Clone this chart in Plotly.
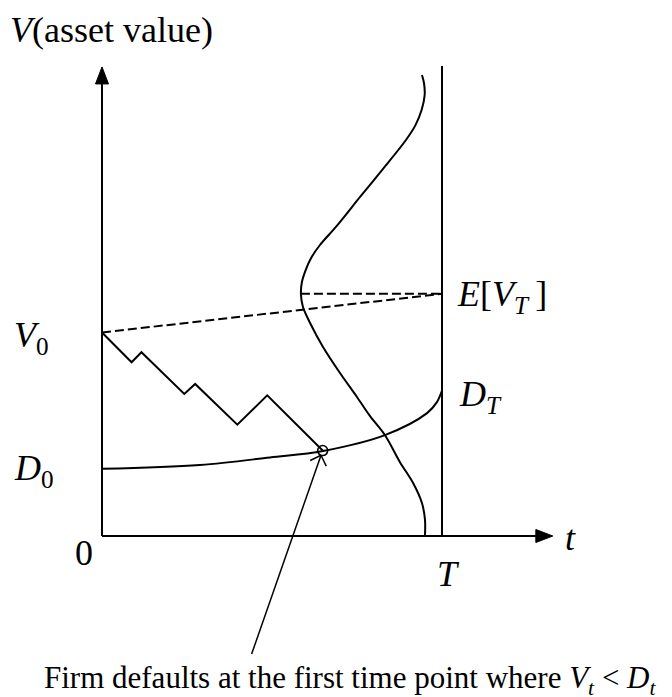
import math
import plotly.graph_objects as go

# ---- model quantities (t in units of the horizon T, V in units where V0 = 100) ----
T = 1.0
V0 = 100.0
D0 = 33.0
EVT = 119.0          # expected terminal asset value E[V_T]

# one simulated asset-value path, ending when it first touches the barrier
path_t = [0.0, 0.087, 0.116, 0.242, 0.274, 0.398, 0.486, 0.649]
path_v = [100.0, 85.4, 90.3, 69.8, 74.7, 54.7, 69.1, 42.0]

# default barrier D_t, rising from D0 to D_T
barrier_t = [0.0, 0.288, 0.494, 0.650, 0.832, 0.956, 0.985, 1.0]
barrier_d = [33.0, 34.9, 38.6, 41.8, 49.6, 60.4, 65.8, 71.5]

# distribution of V_T, drawn sideways to the left of the maturity line
dist_v = [226.5, 222.6, 216.7, 209.3, 201.9, 194.6, 180.3, 166.6, 152.3, 143.0,
          136.6, 130.7, 124.8, 119.0,
          112.5, 104.7, 92.9, 80.1, 68.3, 59.0, 49.6, 36.4, 26.0, 16.2, 7.9, 0.5]
dist_h = [0.059, 0.053, 0.051, 0.060, 0.078, 0.106, 0.174, 0.241, 0.310, 0.359,
          0.385, 0.401, 0.412, 0.415,
          0.409, 0.388, 0.350, 0.300, 0.250, 0.212, 0.168, 0.124, 0.085, 0.059,
          0.050, 0.050]

# axis extents
V_TOP = 231.0        # top of the maturity line
V_ARROW = 230.5      # tip of the value-axis arrow
T_ARROW = 1.326      # tip of the time-axis arrow

# annotation arrow tail (start of the pointer to the default point)
tail_t, tail_v = 0.440, -58.0

# ---- drawing scale ----
W, H = 672, 697
PX_T = 340.0         # pixels per unit of t
PX_V = 2.035         # pixels per unit of V
ORIGIN_X, ORIGIN_Y = 102.0, 536.0
x_range = [-ORIGIN_X / PX_T, (W - ORIGIN_X) / PX_T]
y_range = [-(H - ORIGIN_Y) / PX_V, ORIGIN_Y / PX_V]


def dx(px):
    return px / PX_T


def dv(px):
    return px / PX_V


def px_t(px):
    return (px - ORIGIN_X) / PX_T


def px_v(py):
    return (ORIGIN_Y - py) / PX_V


BLACK = "black"
FONT = "Liberation Serif, Times New Roman, serif"
LW = 2

fig = go.Figure()


def line(xs, ys, width=LW, dash=None, shape="linear", smoothing=1.0):
    ln = dict(color=BLACK, width=width, dash=dash, shape=shape)
    if shape == "spline":
        ln["smoothing"] = smoothing
    fig.add_trace(go.Scatter(
        x=xs, y=ys, mode="lines", hoverinfo="skip", showlegend=False, line=ln))


# axes
head_len, head_half = 17, 6.5
line([0, 0], [0, V_ARROW - dv(head_len)])
line([0, T_ARROW - dx(head_len)], [0, 0])
fig.add_trace(go.Scatter(
    x=[0, -dx(head_half), dx(head_half), 0],
    y=[V_ARROW, V_ARROW - dv(head_len), V_ARROW - dv(head_len), V_ARROW],
    mode="lines", fill="toself", fillcolor=BLACK, line=dict(color=BLACK, width=1),
    hoverinfo="skip", showlegend=False))
fig.add_trace(go.Scatter(
    x=[T_ARROW, T_ARROW - dx(head_len), T_ARROW - dx(head_len), T_ARROW],
    y=[0, dv(head_half), -dv(head_half), 0],
    mode="lines", fill="toself", fillcolor=BLACK, line=dict(color=BLACK, width=1),
    hoverinfo="skip", showlegend=False))

# maturity line
line([T, T], [0, V_TOP])

# expected drift of the asset value and the level of E[V_T]
line([0, T], [V0, EVT], width=2, dash="9px,4px")
peak = dist_v.index(EVT)
line([T - dist_h[peak], T], [EVT, EVT], width=2, dash="9px,4px")

# terminal distribution
line([T - h for h in dist_h], dist_v, shape="spline", smoothing=0.9)

# default barrier
line(barrier_t, barrier_d, shape="spline")

# asset path
line(path_t, path_v)

# default point
hit_t, hit_v = path_t[-1], path_v[-1]
fig.add_trace(go.Scatter(
    x=[hit_t], y=[hit_v], mode="markers", hoverinfo="skip", showlegend=False,
    marker=dict(symbol="circle-open", size=10, color=BLACK, line=dict(width=1.6))))

# pointer from the caption to the default point, with an open arrowhead
ux = (hit_t - tail_t) * PX_T
uy = (hit_v - tail_v) * PX_V
norm = math.hypot(ux, uy)
ux, uy = ux / norm, uy / norm
tip_t, tip_v = hit_t - dx(5 * ux), hit_v - dv(5 * uy)
line([tail_t, tip_t], [tail_v, tip_v], width=1.5)
wing = 12
for ang in (math.radians(45), math.radians(-45)):
    bx, by = -ux, -uy
    wx = bx * math.cos(ang) - by * math.sin(ang)
    wy = bx * math.sin(ang) + by * math.cos(ang)
    line([tip_t, tip_t + dx(wing * wx)], [tip_v, tip_v + dv(wing * wy)], width=1.5)

annotations = []


def label(text, t, v, size=36, xanchor="left", yanchor="middle"):
    annotations.append(dict(
        x=t, y=v, xref="x", yref="y", text=text, showarrow=False,
        xanchor=xanchor, yanchor=yanchor, font=dict(family=FONT, size=size, color=BLACK)))


label("<i>V</i>(asset value)", px_t(8), px_v(30))
label("<i>V</i><sub>0</sub>", px_t(12), px_v(337))
label("<i>D</i><sub>0</sub>", px_t(12), px_v(470))
label("0", px_t(84), px_v(553), xanchor="center")
label("<i>T</i>", px_t(448), px_v(574), xanchor="center")
label("<i>t</i>", px_t(570), px_v(538), xanchor="center")
label("<i>E</i>[<i>V</i><sub><i>T</i></sub>&#8201;]", px_t(455), px_v(296))
label("<i>D</i><sub><i>T</i></sub>", px_t(457), px_v(396))
label("Firm defaults at the first time point where <i>V</i><sub><i>t</i></sub> &lt; <i>D</i><sub><i>t</i></sub>",
      px_t(42), px_v(680), size=31)

fig.update_layout(
    width=W, height=H, autosize=False,
    margin=dict(l=0, r=0, t=0, b=0, pad=0),
    paper_bgcolor="white", plot_bgcolor="white",
    xaxis=dict(range=x_range, visible=False, fixedrange=True),
    yaxis=dict(range=y_range, visible=False, fixedrange=True),
    annotations=annotations,
    showlegend=False,
)

fig.write_html("out.html", config={"displayModeBar": False})
